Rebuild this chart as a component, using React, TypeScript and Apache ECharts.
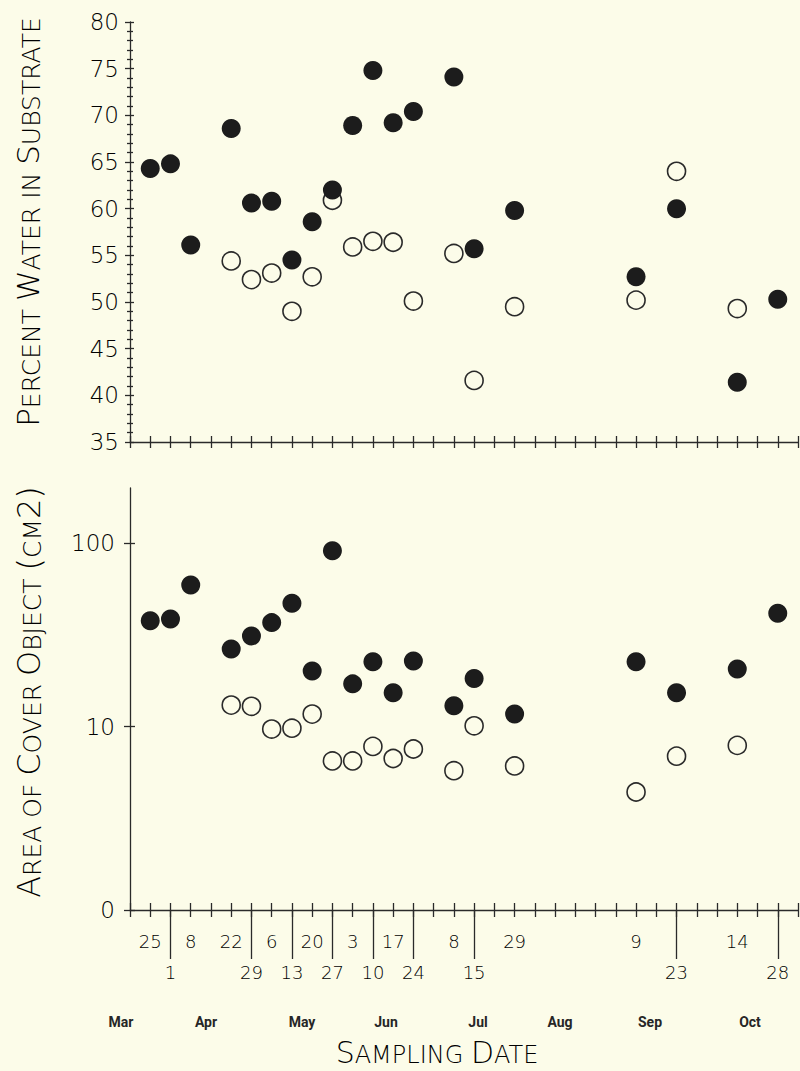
import React, { useEffect, useRef } from "react";
import * as echarts from "echarts";

// Sampling weeks counted from 25 March (week 0)
const sampleWeeks = [0, 1, 2, 4, 5, 6, 7, 8, 9, 10, 11, 12, 13, 15, 16, 18, 24, 26, 29, 31];
const dayLabels = ["25", "1", "8", "22", "29", "6", "13", "20", "27", "3", "10", "17", "24", "8", "15", "29", "9", "23", "14", "28"];
const lowerRowWeeks = [1, 5, 7, 9, 11, 13, 16, 26, 31];
const upperRowWeeks = [0, 2, 4, 6, 8, 10, 12, 15, 18, 24, 29];
const monthLabels = ["Mar", "Apr", "May", "Jun", "Jul", "Aug", "Sep", "Oct"];

// Percent water in substrate
const waterFilled = [64.3, 64.8, 56.1, 68.6, 60.6, 60.8, 54.5, 58.6, 62.0, 68.9, 74.8, 69.2, 70.4, 74.1, 55.7, 59.8, 52.7, 60.0, 41.4, 50.3];
const waterOpen = [null, null, null, 54.4, 52.4, 53.1, 49.0, 52.7, 60.9, 55.9, 56.5, 56.4, 50.1, 55.2, 41.6, 49.5, 50.2, 64.0, 49.3, null];

// Area of cover object (cm2), log scale
const areaFilled = [37.8, 38.6, 59.2, 26.5, 31.2, 36.9, 47.0, 20.1, 91.0, 17.1, 22.6, 15.3, 22.8, 13.0, 18.3, 11.7, 22.6, 15.3, 20.6, 41.5];
const areaOpen = [null, null, null, 13.1, 12.9, 9.7, 9.8, 11.7, 6.5, 6.5, 7.8, 6.7, 7.55, 5.75, 10.1, 6.1, 4.4, 6.9, 7.9, null];

const areaTickValues = [1, 10, 100];
const areaTickLabels = ["0", "10", "100"];
const areaMax = 200;
const weekMin = -1;
const weekMax = 32;

const BG = "#fcfce9";
const INK = "#2a2a2a";
const TXT = "#000000";
const NUM_FONT = "'DejaVu Sans', 'Liberation Sans', sans-serif";
const MONTH_FONT = "'Liberation Sans Narrow', 'Roboto', sans-serif";

function pairs(vals: (number | null)[], tf?: (v: number) => number) {
  const out: number[][] = [];
  vals.forEach((v, i) => {
    if (v != null) out.push([sampleWeeks[i], tf ? tf(v) : v]);
  });
  return out;
}

function dayLabelFor(v: number) {
  const idx = sampleWeeks.indexOf(Math.round(v));
  return idx >= 0 ? dayLabels[idx] : "";
}

export default function App() {
  const ref = useRef<HTMLDivElement>(null);

  useEffect(() => {
    document.body.style.margin = "0";
    document.body.style.background = BG;
    const chart = echarts.init(ref.current!, null, { renderer: "svg" });

    const lineStyle = { color: INK, width: 1.3 };
    const weekAxisBase = {
      type: "value",
      min: weekMin,
      max: weekMax,
      interval: 1,
      position: "bottom",
      splitLine: { show: false },
      axisLabel: { show: false },
    };

    const logTicks = areaTickValues.map((v) => Math.log10(v));

    const titleRich = (big: number, small: number) => ({
      b: { fontSize: big, fontFamily: NUM_FONT, fontWeight: 300, fill: TXT, color: TXT, verticalAlign: "bottom" },
      s: { fontSize: small, fontFamily: NUM_FONT, fontWeight: 300, fill: TXT, color: TXT, verticalAlign: "bottom" },
    });

    const monthX = [121, 206, 302, 386, 478, 560, 650, 750];

    const option: any = {
      animation: false,
      backgroundColor: BG,
      grid: [
        { left: 130, right: 2, top: 22, height: 420 },
        { left: 130, right: 2, top: 488, height: 422 },
      ],
      xAxis: [
        {
          ...weekAxisBase,
          gridIndex: 0,
          axisLine: { show: true, onZero: false, lineStyle },
          axisTick: { show: true, inside: true, length: 6, lineStyle },
        },
        {
          ...weekAxisBase,
          gridIndex: 0,
          axisLine: { show: false, onZero: false },
          axisTick: { show: true, inside: false, length: 6, lineStyle },
        },
        {
          ...weekAxisBase,
          gridIndex: 1,
          axisLine: { show: true, onZero: false, lineStyle },
          axisTick: { show: true, inside: true, length: 7, lineStyle },
        },
        {
          ...weekAxisBase,
          gridIndex: 1,
          axisLine: { show: false, onZero: false },
          axisTick: { show: true, inside: false, length: 7, lineStyle },
        },
        {
          ...weekAxisBase,
          gridIndex: 1,
          axisLine: { show: false, onZero: false },
          axisTick: { show: true, inside: false, length: 49, customValues: lowerRowWeeks, lineStyle },
          axisLabel: {
            show: true,
            customValues: lowerRowWeeks,
            formatter: (v: number) => dayLabelFor(v),
            margin: 53,
            fontSize: 18,
            fontFamily: NUM_FONT,
            fontWeight: 300,
            color: TXT,
          },
        },
        {
          ...weekAxisBase,
          gridIndex: 1,
          axisLine: { show: false, onZero: false },
          axisTick: { show: false },
          axisLabel: {
            show: true,
            customValues: upperRowWeeks,
            formatter: (v: number) => dayLabelFor(v),
            margin: 22,
            fontSize: 18,
            fontFamily: NUM_FONT,
            fontWeight: 300,
            color: TXT,
          },
        },
      ],
      yAxis: [
        {
          type: "value",
          gridIndex: 0,
          position: "left",
          min: 35,
          max: 80,
          interval: 5,
          splitLine: { show: false },
          axisLine: { show: true, onZero: false, lineStyle },
          axisTick: { show: true, inside: false, length: 5, lineStyle },
          minorTick: { show: true, splitNumber: 5, length: 3, lineStyle },
          minorSplitLine: { show: false },
          axisLabel: { show: true, margin: 11, fontSize: 23, fontFamily: NUM_FONT, fontWeight: 300, color: TXT },
        },
        {
          type: "value",
          gridIndex: 0,
          position: "left",
          min: 35,
          max: 80,
          interval: 5,
          splitLine: { show: false },
          axisLine: { show: false, onZero: false },
          axisTick: { show: true, inside: true, length: 4, lineStyle },
          minorTick: { show: true, splitNumber: 5, length: 3, lineStyle },
          minorSplitLine: { show: false },
          axisLabel: { show: false },
        },
        {
          type: "value",
          gridIndex: 1,
          position: "left",
          min: 0,
          max: Math.log10(areaMax),
          splitLine: { show: false },
          axisLine: { show: true, onZero: false, lineStyle },
          axisTick: { show: true, inside: false, length: 6, customValues: logTicks, lineStyle },
          axisLabel: {
            show: true,
            customValues: logTicks,
            formatter: (v: number) => {
              const i = logTicks.findIndex((t) => Math.abs(t - v) < 1e-6);
              return i >= 0 ? areaTickLabels[i] : "";
            },
            margin: 15,
            fontSize: 23,
            fontFamily: NUM_FONT,
            fontWeight: 300,
            color: TXT,
          },
        },
        {
          type: "value",
          gridIndex: 1,
          position: "left",
          min: 0,
          max: Math.log10(areaMax),
          splitLine: { show: false },
          axisLine: { show: false, onZero: false },
          axisTick: { show: true, inside: true, length: 5, customValues: logTicks, lineStyle },
          axisLabel: { show: false },
        },
      ],
      series: [
        {
          name: "Water (open)",
          type: "scatter",
          xAxisIndex: 0,
          yAxisIndex: 0,
          symbol: "circle",
          symbolSize: 18,
          itemStyle: { color: BG, borderColor: INK, borderWidth: 1.6, opacity: 1 },
          data: pairs(waterOpen),
        },
        {
          name: "Water (filled)",
          type: "scatter",
          xAxisIndex: 0,
          yAxisIndex: 0,
          symbol: "circle",
          symbolSize: 19,
          itemStyle: { color: "#1c1c1c", opacity: 1 },
          data: pairs(waterFilled),
        },
        {
          name: "Area (open)",
          type: "scatter",
          xAxisIndex: 2,
          yAxisIndex: 2,
          symbol: "circle",
          symbolSize: 18,
          itemStyle: { color: BG, borderColor: INK, borderWidth: 1.6, opacity: 1 },
          data: pairs(areaOpen, Math.log10),
        },
        {
          name: "Area (filled)",
          type: "scatter",
          xAxisIndex: 2,
          yAxisIndex: 2,
          symbol: "circle",
          symbolSize: 19,
          itemStyle: { color: "#1c1c1c", opacity: 1 },
          data: pairs(areaFilled, Math.log10),
        },
      ],
      graphic: [
        {
          type: "text",
          x: 28,
          y: 222,
          rotation: Math.PI / 2,
          style: {
            text: "{b|P}{s|ERCENT }{b|W}{s|ATER IN }{b|S}{s|UBSTRATE}",
            rich: titleRich(31, 25),
            align: "center",
            verticalAlign: "middle",
            fill: TXT,
          },
        },
        {
          type: "text",
          x: 29,
          y: 692,
          rotation: Math.PI / 2,
          style: {
            text: "{b|A}{s|REA OF }{b|C}{s|OVER }{b|O}{s|BJECT }{b|(}{s|CM}{b|2)}",
            rich: titleRich(32, 25),
            align: "center",
            verticalAlign: "middle",
            fill: TXT,
          },
        },
        {
          type: "text",
          x: 437,
          y: 1052,
          style: {
            text: "{b|S}{s|AMPLING }{b|D}{s|ATE}",
            rich: titleRich(30, 24),
            align: "center",
            verticalAlign: "middle",
            fill: TXT,
          },
        },
        ...monthLabels.map((m, i) => ({
          type: "text",
          x: monthX[i],
          y: 1022,
          style: {
            text: m,
            fontSize: 14,
            fontWeight: "bold",
            fontFamily: MONTH_FONT,
            fill: "#262626",
            align: "center",
            verticalAlign: "middle",
          },
        })),
      ],
    };

    chart.setOption(option);
    return () => chart.dispose();
  }, []);

  return (
    <div
      ref={ref}
      style={{ position: "absolute", left: 0, top: 0, width: 800, height: 1071, background: BG }}
    />
  );
}
